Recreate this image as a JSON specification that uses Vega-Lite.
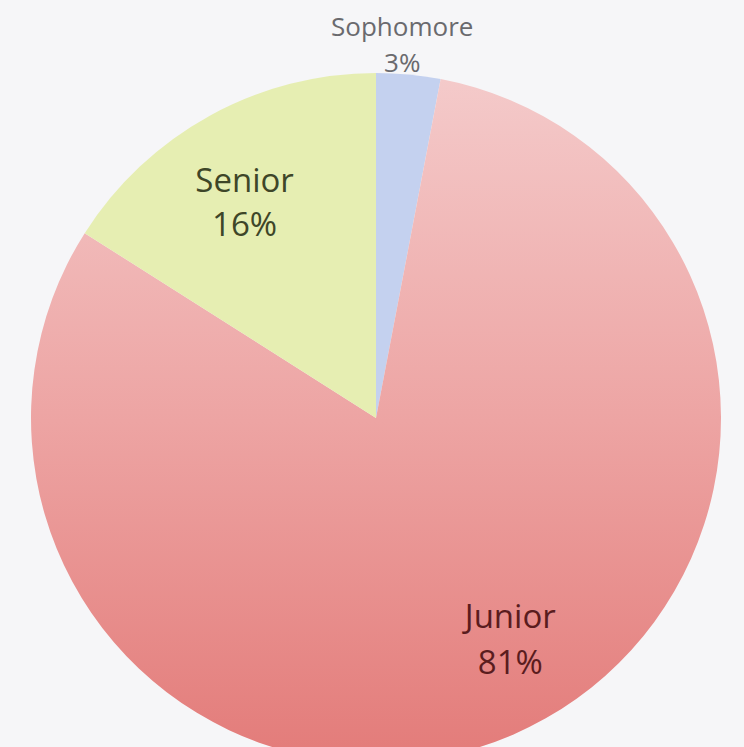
{
  "$schema": "https://vega.github.io/schema/vega-lite/v6.json",
  "width": 736,
  "height": 658,
  "autosize": {"type": "none"},
  "padding": {"left": 8, "top": 89, "right": 0, "bottom": 0},
  "background": "#f6f6f8",
  "config": {"view": {"stroke": null}},
  "data": {
    "values": [
      {"cls": "Sophomore", "idx": 1, "pct": 3, "label": "Sophomore\n3%"},
      {"cls": "Junior", "idx": 2, "pct": 81, "label": "Junior\n81%"},
      {"cls": "Senior", "idx": 3, "pct": 16, "label": "Senior\n16%"}
    ]
  },
  "encoding": {
    "theta": {"field": "pct", "type": "quantitative", "stack": true},
    "order": {"field": "idx", "type": "quantitative"}
  },
  "layer": [
    {
      "mark": {"type": "arc", "outerRadius": 345},
      "encoding": {
        "fill": {
          "condition": {
            "test": "datum.cls === 'Junior'",
            "value": {
              "gradient": "linear",
              "x1": 0, "y1": 0, "x2": 0, "y2": 1,
              "stops": [
                {"offset": 0, "color": "#f4caca"},
                {"offset": 0.5, "color": "#eda4a3"},
                {"offset": 1, "color": "#e37b79"}
              ]
            }
          },
          "field": "cls",
          "type": "nominal",
          "scale": {"domain": ["Sophomore", "Junior", "Senior"], "range": ["#c4d1ef", "#eda3a2", "#e6eeb2"]},
          "legend": null
        }
      }
    },
    {
      "mark": {"type": "text", "radius": 374, "dx": -9, "dy": -18, "font": "Open Sans", "fontSize": 26, "lineHeight": 36, "lineBreak": "\n", "color": "#6a6a6e", "align": "center", "baseline": "middle"},
      "encoding": {
        "text": {"condition": {"test": "datum.cls === 'Sophomore'", "field": "label"}, "value": ""}
      }
    },
    {
      "mark": {"type": "text", "radius": 250, "dx": -11, "dy": -17, "font": "Open Sans", "fontSize": 33, "lineHeight": 44, "lineBreak": "\n", "color": "#3e4628", "align": "center", "baseline": "middle"},
      "encoding": {
        "text": {"condition": {"test": "datum.cls === 'Senior'", "field": "label"}, "value": ""}
      }
    },
    {
      "mark": {"type": "text", "radius": 255, "dx": 33, "dy": -34, "font": "Open Sans", "fontSize": 33, "lineHeight": 46, "lineBreak": "\n", "color": "#5a1c1e", "align": "center", "baseline": "middle"},
      "encoding": {
        "text": {"condition": {"test": "datum.cls === 'Junior'", "field": "label"}, "value": ""}
      }
    }
  ]
}
